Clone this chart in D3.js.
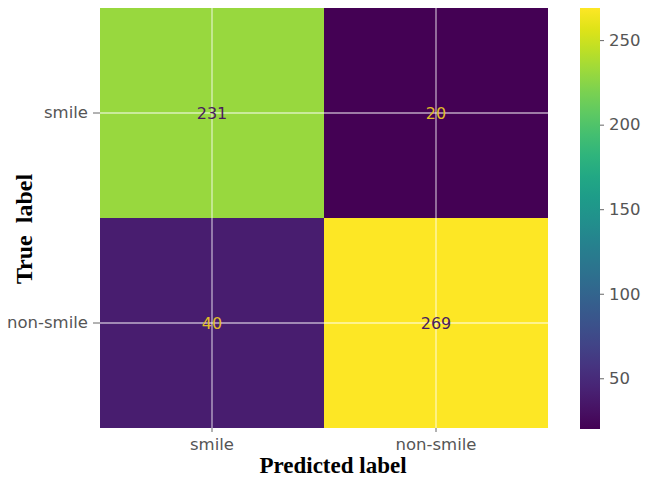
<!DOCTYPE html>
<html>
<head>
<meta charset="utf-8">
<script src="https://cdn.jsdelivr.net/npm/d3@7"></script>
<style>
  html, body { margin: 0; padding: 0; background: #fff; }
  svg { display: block; }
</style>
</head>
<body>
<svg id="chart" width="645" height="478"></svg>
<script>
// Confusion matrix: rows = true label, columns = predicted label
const classes = ["smile", "non-smile"];
const matrix = [
  [231, 20],
  [40, 269]
];
const colorbarTicks = [50, 100, 150, 200, 250];

const svg = d3.select("#chart");
const plot = { left: 100, top: 8, width: 448, height: 420 };
const cbar = { left: 580, width: 20 };

const x = d3.scaleBand().domain(classes).range([plot.left, plot.left + plot.width]);
const y = d3.scaleBand().domain(classes).range([plot.top, plot.top + plot.height]);

const flat = matrix.flat();
const vmin = d3.min(flat), vmax = d3.max(flat);
const color = d3.scaleSequential(d3.interpolateViridis).domain([vmin, vmax]);

const cells = [];
classes.forEach((t, i) => classes.forEach((p, j) => cells.push({ t, p, v: matrix[i][j] })));

// heatmap cells
svg.append("g").selectAll("rect").data(cells).join("rect")
  .attr("x", d => x(d.p)).attr("y", d => y(d.t))
  .attr("width", x.bandwidth()).attr("height", y.bandwidth())
  .attr("fill", d => color(d.v));

// grid lines through tick positions
const grid = svg.append("g").attr("stroke", "rgba(255,255,255,0.65)").attr("stroke-width", 1.3);
classes.forEach(c => {
  const cx = x(c) + x.bandwidth() / 2;
  grid.append("line").attr("x1", cx).attr("x2", cx).attr("y1", plot.top).attr("y2", plot.top + plot.height);
  const cy = y(c) + y.bandwidth() / 2;
  grid.append("line").attr("y1", cy).attr("y2", cy).attr("x1", plot.left).attr("x2", plot.left + plot.width);
});

// cell values
const mid = (vmin + vmax) / 2;
svg.append("g").selectAll("text").data(cells).join("text")
  .attr("x", d => x(d.p) + x.bandwidth() / 2)
  .attr("y", d => y(d.t) + y.bandwidth() / 2)
  .attr("text-anchor", "middle").attr("dominant-baseline", "central")
  .attr("font-family", "DejaVu Sans, sans-serif").attr("font-size", 16)
  .attr("fill", d => d.v < mid ? "#e0bd2a" : "#4a1c5e")
  .text(d => d.v);

// axes
const axisFont = g => {
  g.select(".domain").remove();
  g.selectAll(".tick line").attr("stroke", "#666");
  g.selectAll(".tick text").attr("fill", "#555").attr("font-family", "DejaVu Sans, sans-serif").attr("font-size", 16.5);
};
svg.append("g").attr("transform", `translate(0,${plot.top + plot.height})`)
  .call(d3.axisBottom(x).tickSize(4).tickPadding(6)).call(axisFont);
svg.append("g").attr("transform", `translate(${plot.left},0)`)
  .call(d3.axisLeft(y).tickSize(7).tickPadding(5)).call(axisFont);

// axis titles
svg.append("text")
  .attr("x", 333).attr("y", 473)
  .attr("text-anchor", "middle")
  .attr("font-family", "Liberation Serif, Times New Roman, serif")
  .attr("font-weight", "bold").attr("font-size", 23)
  .text("Predicted label");
svg.append("text")
  .attr("transform", `translate(32,229) rotate(-90)`)
  .attr("text-anchor", "middle")
  .attr("font-family", "Liberation Serif, Times New Roman, serif")
  .attr("font-weight", "bold").attr("font-size", 24)
  .attr("xml:space", "preserve")
  .text("True  label");

// colorbar
const cy = d3.scaleLinear().domain([vmin, vmax]).range([429, 8]);
const defs = svg.append("defs");
const grad = defs.append("linearGradient").attr("id", "cbgrad")
  .attr("x1", 0).attr("y1", 1).attr("x2", 0).attr("y2", 0);
d3.range(0, 1.0001, 0.05).forEach(t => {
  grad.append("stop").attr("offset", t).attr("stop-color", d3.interpolateViridis(t));
});
svg.append("rect")
  .attr("x", cbar.left).attr("y", cy(vmax))
  .attr("width", cbar.width).attr("height", cy(vmin) - cy(vmax))
  .attr("fill", "url(#cbgrad)");
svg.append("g").attr("transform", `translate(${cbar.left + cbar.width},0)`)
  .call(d3.axisRight(cy).tickValues(colorbarTicks).tickSize(4).tickPadding(5))
  .call(axisFont);
</script>
</body>
</html>
